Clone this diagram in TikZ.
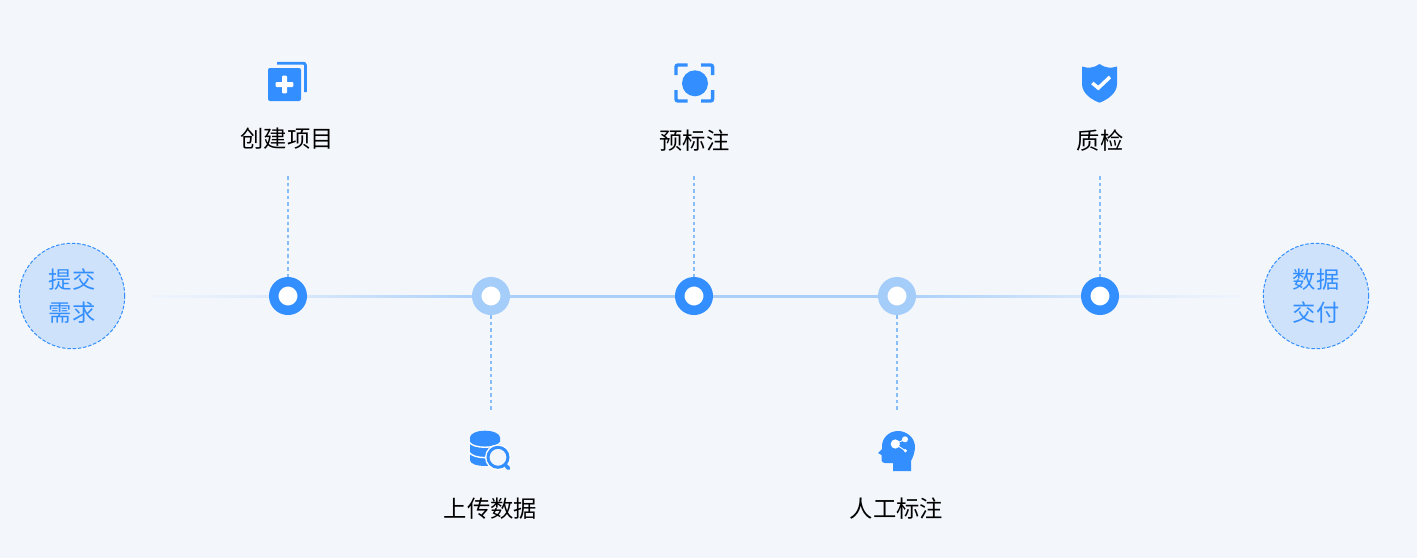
\documentclass[tikz,border=0pt]{standalone}
\usepackage{fontspec}
\setmainfont{Noto Sans CJK SC}
\usepackage{xcolor}
\usetikzlibrary{calc}
\definecolor{pagebg}{RGB}{243,247,252}
\definecolor{flowblue}{RGB}{51,143,255}
\definecolor{softblue}{RGB}{165,205,250}
\definecolor{capfill}{RGB}{207,226,251}
\definecolor{dashblue}{RGB}{135,190,249}
\pgfdeclarehorizontalshading{axisfade}{100bp}{
    rgb(0bp)=(0.953,0.969,0.988);
    rgb(25bp)=(0.94,0.96,0.988);
    rgb(31.25bp)=(0.86,0.915,0.984);
    rgb(40.5bp)=(0.667,0.816,0.98);
    rgb(59.5bp)=(0.667,0.816,0.98);
    rgb(68.75bp)=(0.86,0.915,0.984);
    rgb(75bp)=(0.94,0.96,0.988);
    rgb(100bp)=(0.953,0.969,0.988)}

\begin{document}
\begin{tikzpicture}[
    x=1pt, y=-1pt,
    stepdot/.style={circle, draw=flowblue, fill=white, line width=9.5pt, minimum size=28.5pt, inner sep=0pt},
    softdot/.style={stepdot, draw=softblue},
    capnode/.style={circle, draw=flowblue, fill=capfill, dashed, dash pattern=on 3.5pt off 1.8pt, line width=1pt, minimum size=105.5pt, inner sep=0pt, align=center, text=flowblue, font=\fontsize{23.3}{33}\selectfont},
    steplabel/.style={font=\fontsize{23.3}{28}\selectfont, text=black, inner sep=0pt},
    linkdash/.style={dashblue, line width=1.7pt, dash pattern=on 3.5pt off 3pt},
    icon/.style={fill=flowblue, draw=none}
]
\fill[pagebg] (0,0) rectangle (1417,558);
\useasboundingbox (0,0) rectangle (1417,558);

\coordinate (axisleft) at (152,296);
\coordinate (axisright) at (1240,296);
\shade[shading=axisfade] ($(axisleft)+(0,-1)$) rectangle ($(axisright)+(0,1)$);

\node[capnode] (start) at (72,296) {提交\\需求};
\node[capnode] (finish) at (1316,296) {数据\\交付};

\node[stepdot] (create) at (288,296) {};
\node[softdot] (upload) at (491,296) {};
\node[stepdot] (prelabel) at (694,296) {};
\node[softdot] (manual) at (897,296) {};
\node[stepdot] (check) at (1100,296) {};

\node[steplabel] (createtxt) at (287,139) {创建项目};
\node[steplabel] (prelabeltxt) at (694.5,141) {预标注};
\node[steplabel] (checktxt) at (1100,141) {质检};
\node[steplabel] (uploadtxt) at (490.5,509) {上传数据};
\node[steplabel] (manualtxt) at (896.5,509) {人工标注};

\coordinate (createtop) at (288,176);
\coordinate (prelabeltop) at (694,176);
\coordinate (checktop) at (1100,176);
\coordinate (uploadend) at (491,411);
\coordinate (manualend) at (897,411);
\draw[linkdash] (createtop) -- (create);
\draw[linkdash] (prelabeltop) -- (prelabel);
\draw[linkdash] (checktop) -- (check);
\draw[linkdash] (upload) -- (uploadend);
\draw[linkdash] (manual) -- (manualend);

% create icon
\draw[flowblue, line width=2.8pt, rounded corners=2pt] (277,63.2) -- (305.4,63.2) -- (305.4,92);
\fill[pagebg] (266,66) rectangle (303,103);
\fill[icon, rounded corners=2pt] (268,68) rectangle (301,101);
\fill[white, rounded corners=1pt] (275.7,82) rectangle (293.3,87);
\fill[white, rounded corners=1pt] (282,75.7) rectangle (287,93.3);

% prelabel icon
\fill[icon] (695,83.3) circle (13);
\draw[flowblue, line width=3.4pt, rounded corners=2pt] (676,75) -- (676,65) -- (687.7,65);
\draw[flowblue, line width=3.4pt, rounded corners=2pt] (701,65) -- (712.6,65) -- (712.6,75);
\draw[flowblue, line width=3.4pt, rounded corners=2pt] (676,90) -- (676,101) -- (687.7,101);
\draw[flowblue, line width=3.4pt, rounded corners=2pt] (701,101) -- (712.6,101) -- (712.6,90);

% check icon
\fill[icon] (1099.5,64) .. controls (1094,68) and (1088,68.5) .. (1082,66.5) -- (1082,84)
    .. controls (1082,93) and (1091,99.5) .. (1099.5,102.7)
    .. controls (1108,99.5) and (1117,93) .. (1117,84) -- (1117,66.5)
    .. controls (1111,68.5) and (1105,68) .. (1099.5,64) -- cycle;
\draw[white, line width=3.5pt] (1092.3,83) -- (1098.3,88) -- (1110,77);

% upload icon
\fill[icon] (470,437) -- (470,460) .. controls (470,468) and (500,468) .. (500,460) -- (500,437) -- cycle;
\draw[white, line width=1.4pt] (469,442) .. controls (473,449) and (497,449) .. (501,442);
\draw[white, line width=1.4pt] (469,452) .. controls (473,459.5) and (497,459.5) .. (501,452);
\fill[white] (498,457.3) circle (13);
\fill[icon] (485,437.4) ellipse [x radius=15pt, y radius=6.7pt];
\draw[flowblue, line width=3pt, fill=pagebg] (498,457.3) circle (10);
\draw[flowblue, line width=3.6pt, line cap=round] (505,464.6) -- (508.5,468.3);

% manual icon
\fill[icon] (911,471) -- (911,461) .. controls (913,457) and (915,452) .. (915,447)
    .. controls (915,438) and (907,431) .. (898,431)
    .. controls (889,431) and (882,438) .. (882,446) -- (882,449)
    .. controls (881,450.5) and (879,451.5) .. (878,453) -- (881.5,455)
    -- (881.5,460) .. controls (881.5,462) and (883,463) .. (885,463) -- (893,463) -- (893,471) -- cycle;
\draw[white, line width=0.9pt] (905.3,450.7) -- (895.3,444) -- (905,439.3);
\fill[white] (895.3,444) circle (4.6);
\fill[white] (905,439.3) circle (3);
\fill[white] (905.3,450.7) circle (1.8);
\end{tikzpicture}
\end{document}
